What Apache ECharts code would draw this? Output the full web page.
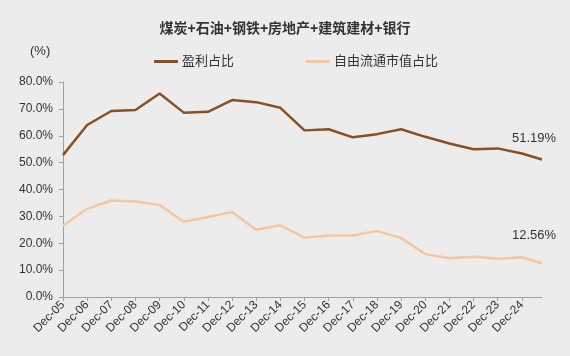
<!DOCTYPE html>
<html><head><meta charset="utf-8">
<script src="https://cdn.jsdelivr.net/npm/echarts@6/dist/echarts.min.js"></script>
<style>html,body{margin:0;padding:0;background:#ececec;}#c{width:570px;height:356px;}</style>
</head><body><div id="c"></div>
<script>
const titleText = '煤炭+石油+钢铁+房地产+建筑建材+银行';
const seriesNames = ['盈利占比', '自由流通市值占比'];
const dates = ['2005-12','2006-12','2007-12','2008-12','2009-12','2010-12','2011-12','2012-12','2013-12','2014-12',
  '2015-12','2016-12','2017-12','2018-12','2019-12','2020-12','2021-12','2022-12','2023-12','2024-12','2025-10'];
const profitShare = [52.8,64.0,69.2,69.6,75.7,68.6,68.9,73.3,72.5,70.4,62.0,62.4,59.4,60.6,62.4,59.6,57.1,55.0,55.3,53.4,51.19];
const mcapShare = [26.5,32.8,35.9,35.5,34.2,28.0,29.8,31.6,25.0,26.7,22.1,22.9,22.9,24.6,21.9,16.0,14.4,15.0,14.2,14.8,12.56];
const tickDates = ['2005-12','2006-12','2007-12','2008-12','2009-12','2010-12','2011-12','2012-12','2013-12','2014-12',
  '2015-12','2016-12','2017-12','2018-12','2019-12','2020-12','2021-12','2022-12','2023-12','2024-12'];

const FONT = '"Liberation Sans", Arial, "Noto Sans CJK SC", sans-serif';
function monthIdx(d){ const p = d.split('-').map(Number); return (p[0]-2005)*12 + (p[1]-12); }
function label(v){ const y = 2005 + Math.round(v/12); return 'Dec-' + String(y%100).padStart(2,'0'); }
const tickVals = tickDates.map(monthIdx);
const xMax = monthIdx(dates[dates.length-1]);

function mk(vals, offset){
  return vals.map((v,i)=>{
    const pt = {value:[monthIdx(dates[i]), v]};
    if (i === vals.length-1) {
      pt.label = {show:true, position:'top', offset:offset, formatter:(p)=>p.value[1].toFixed(2)+'%',
        color:'#333', fontSize:13, fontFamily:FONT};
    }
    return pt;
  });
}

const chart = echarts.init(document.getElementById('c'));
chart.setOption({
  backgroundColor:'#ececec',
  animation:false,
  title:{text:titleText, left:'center', top:17, textStyle:{fontSize:14, fontWeight:'bold', color:'#333', fontFamily:FONT}},
  legend:{left:149, top:50, itemGap:72, itemWidth:24, itemHeight:3, icon:'rect',
    textStyle:{fontSize:13, color:'#333', fontFamily:FONT, padding:[0,0,0,-1]},
    data:seriesNames},
  graphic:[{type:'text', left:30, top:45, style:{text:'(%)', fontSize:13, fill:'#333', font:'13px '+FONT}}],
  grid:{left:63, right:28, top:82, bottom:59},
  xAxis:{type:'value', min:0, max:xMax,
    axisLine:{lineStyle:{color:'#a0a0a0', width:1}},
    axisTick:{show:true, length:4, customValues:tickVals, lineStyle:{color:'#a0a0a0'}},
    axisLabel:{customValues:tickVals, rotate:45, fontSize:12, color:'#333', fontFamily:FONT, margin:6, formatter:label},
    splitLine:{show:false}},
  yAxis:{type:'value', min:0, max:80, interval:10,
    axisLine:{show:true, lineStyle:{color:'#a0a0a0', width:1}},
    axisTick:{show:true, length:4, lineStyle:{color:'#a0a0a0'}},
    axisLabel:{fontSize:12, color:'#333', fontFamily:FONT, margin:10, formatter:(v)=>v.toFixed(1)+'%'},
    splitLine:{show:false}},
  series:[
    {name:seriesNames[0], type:'line', data:mk(profitShare,[-8,-10]), showSymbol:true, symbol:'circle', symbolSize:0,
      lineStyle:{color:'#8a4f22', width:2.5}, itemStyle:{color:'#8a4f22'}},
    {name:seriesNames[1], type:'line', data:mk(mcapShare,[-8,-16]), showSymbol:true, symbol:'circle', symbolSize:0,
      lineStyle:{color:'#f2c7a1', width:2.5}, itemStyle:{color:'#f2c7a1'}}
  ]
});
</script></body></html>
